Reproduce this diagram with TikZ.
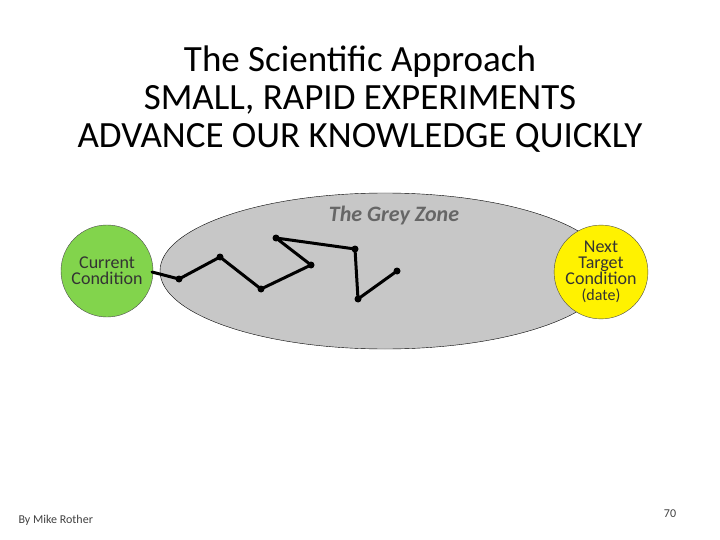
\documentclass[tikz,border=0pt]{standalone}
\usepackage{fontspec}
\setmainfont{Carlito}
\usetikzlibrary{shapes.geometric}
\begin{document}
\begin{tikzpicture}[x=1pt,y=-1pt,
  pt/.style={circle,fill=black,inner sep=0pt,minimum size=7pt},
  zz/.style={line width=3pt,line cap=round,line join=round},
  lbl/.style={font=\fontsize{18}{16}\selectfont,align=center,text=black!80}]
\useasboundingbox (0,0) rectangle (720,540);
\node[font=\fontsize{37}{38}\selectfont,align=center] (title) at (360,99) {The Scientific Approach\\SMALL, RAPID EXPERIMENTS\\ADVANCE OUR KNOWLEDGE QUICKLY};
\node[draw=black,fill=black!22,ellipse,minimum width=450,minimum height=156,inner sep=0pt] (grey) at (385,271) {};
\node[font=\fontsize{22}{24}\selectfont\bfseries\itshape,text=black!60] (gz) at (394,216) {The Grey Zone};
\node[circle,draw=black!70,fill=green!60!black!60!lime!70,minimum size=92,inner sep=0pt,lbl] (cur) at (107,271) {Current\\Condition};
\node[circle,draw=black!70,fill=yellow,minimum size=84,inner sep=0pt,lbl] (nxt) at (601,272) {Next\\Target\\Condition\\{\fontsize{16}{16}\selectfont(date)}};
\coordinate (s) at (152,272);
\node[pt] (p1) at (179,279) {};
\node[pt] (p2) at (220,257) {};
\node[pt] (p3) at (261,289) {};
\node[pt] (p4) at (311,265) {};
\node[pt] (p5) at (276,238) {};
\node[pt] (p6) at (355,249) {};
\node[pt] (p7) at (358,299) {};
\node[pt] (p8) at (397,271) {};
\draw[zz] (s) -- (p1.center) -- (p2.center) -- (p3.center) -- (p4.center) -- (p5.center) -- (p6.center) -- (p7.center) -- (p8.center);
\node[font=\fontsize{12}{12}\selectfont,text=black!75,anchor=west] (by) at (15,520) {By Mike Rother};
\node[font=\fontsize{12}{12}\selectfont,text=black!75] (num) at (670,514) {70};
\end{tikzpicture}
\end{document}
